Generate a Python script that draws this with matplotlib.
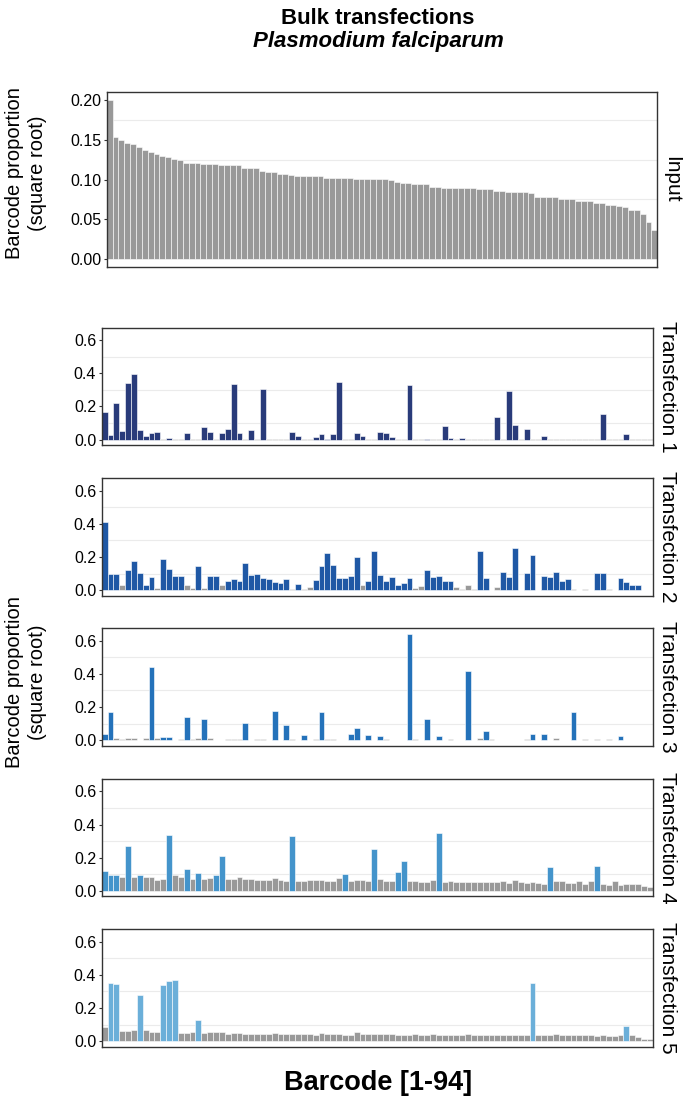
import matplotlib
matplotlib.use("Agg")
from matplotlib import pyplot as plt
import numpy as np

plt.rcParams['font.family'] = ['Liberation Sans', 'DejaVu Sans']

# barcode proportions (square root), barcodes ordered by input
input_vals = [0.200, 0.153, 0.150, 0.146, 0.145, 0.141, 0.137, 0.135, 0.132, 0.130,
              0.128, 0.126, 0.125, 0.121, 0.121, 0.121, 0.120, 0.119, 0.119, 0.118,
              0.118, 0.118, 0.118, 0.114, 0.114, 0.114, 0.111, 0.109, 0.109, 0.107,
              0.107, 0.106, 0.105, 0.105, 0.105, 0.105, 0.104, 0.102, 0.102, 0.102,
              0.102, 0.102, 0.101, 0.101, 0.101, 0.101, 0.101, 0.101, 0.099, 0.097,
              0.096, 0.096, 0.094, 0.094, 0.094, 0.091, 0.091, 0.089, 0.089, 0.089,
              0.089, 0.089, 0.089, 0.088, 0.088, 0.088, 0.086, 0.086, 0.084, 0.084,
              0.084, 0.084, 0.083, 0.078, 0.078, 0.078, 0.078, 0.076, 0.076, 0.076,
              0.073, 0.073, 0.073, 0.070, 0.070, 0.068, 0.068, 0.066, 0.065, 0.062,
              0.062, 0.057, 0.047, 0.036]

t1 = [.169, .030, .223, .050, .340, .396, .060, .024, .038, .048, .004, .010, .004, .004,
      .042, .004, .004, .078, .046, .004, .042, .064, .336, .040, .004, .060, .004, .308,
      .004, .004, .004, .004, .044, .024, .004, .004, .016, .036, .006, .036, .346, .004,
      .004, .040, .022, .004, .004, .046, .042, .018, .004, .004, .332, .004, .006, .006,
      .004, .004, .082, .010, .004, .010, .004, .004, .004, .004, .004, .139, .006, .292,
      .091, .004, .064, .004, .004, .024, .004, .004, .004, .004, .006, .006, .004, .004,
      .004, .155, .004, .004, .004, .032, .004, .004, .004, .004]
t1_hits = [1, 2, 3, 4, 5, 6, 7, 8, 9, 10, 12, 15, 18, 19, 21, 22, 23, 24, 26, 28, 33, 34,
           37, 38, 39, 40, 41, 44, 45, 48, 49, 50, 53, 56, 59, 60, 62, 68, 70, 71, 73, 76,
           86, 90]

t2 = [.408, .095, .095, .030, .125, .174, .101, .034, .079, .016, .186, .127, .083, .083,
      .030, .016, .147, .012, .087, .085, .030, .057, .067, .053, .162, .091, .097, .075,
      .067, .050, .042, .065, .010, .038, .008, .020, .063, .145, .222, .154, .075, .071,
      .083, .200, .032, .057, .236, .091, .057, .077, .032, .046, .071, .014, .026, .121,
      .081, .087, .057, .057, .020, .010, .030, .010, .236, .073, .003, .022, .111, .077,
      .257, .003, .101, .210, .003, .087, .077, .111, .057, .069, .008, .004, .008, .004,
      .103, .101, .008, .004, .073, .051, .032, .034, .004, .004]
t2_hits = [1, 2, 3, 5, 6, 7, 8, 9, 11, 12, 13, 14, 17, 19, 20, 22, 23, 24, 25, 26, 27, 28,
           29, 30, 31, 32, 34, 37, 38, 39, 40, 41, 42, 43, 44, 46, 47, 48, 49, 50, 51, 52,
           53, 56, 57, 58, 59, 60, 65, 66, 69, 70, 71, 73, 74, 76, 77, 78, 79, 80, 85, 86,
           89, 90, 91, 92]

t3 = [.038, .172, .014, .008, .014, .016, .004, .014, .442, .016, .020, .020, .004, .008,
      .141, .008, .014, .127, .016, .004, .004, .008, .008, .008, .101, .004, .008, .008,
      .004, .178, .004, .093, .008, .004, .032, .004, .008, .170, .008, .008, .004, .004,
      .036, .071, .004, .032, .004, .026, .008, .004, .004, .004, .642, .008, .004, .131,
      .004, .024, .004, .008, .004, .004, .418, .004, .014, .055, .006, .004, .004, .004,
      .004, .004, .006, .040, .004, .036, .004, .014, .004, .004, .170, .004, .006, .004,
      .006, .004, .006, .004, .024, .004, .004, .004, .004, .004]
t3_hits = [1, 2, 9, 11, 12, 15, 18, 25, 30, 32, 35, 38, 43, 44, 46, 48, 53, 56, 58, 63, 66,
           74, 76, 81, 89]

t4 = [.119, .097, .097, .085, .273, .083, .097, .087, .083, .065, .071, .337, .095, .083,
      .135, .075, .107, .073, .077, .095, .208, .071, .071, .083, .073, .071, .065, .069,
      .067, .077, .067, .063, .333, .059, .061, .065, .065, .065, .061, .063, .079, .101,
      .061, .065, .069, .057, .255, .071, .061, .057, .117, .178, .057, .057, .055, .055,
      .065, .350, .051, .057, .051, .051, .051, .051, .051, .053, .051, .051, .057, .050,
      .065, .053, .048, .053, .050, .044, .145, .057, .057, .046, .050, .059, .044, .059,
      .152, .042, .036, .057, .036, .042, .040, .040, .030, .022]
t4_hits = [1, 2, 3, 5, 7, 12, 15, 17, 20, 21, 33, 42, 47, 51, 52, 58, 77, 85]

t5 = [.083, .350, .342, .060, .062, .068, .276, .066, .056, .054, .336, .362, .370, .050,
      .052, .056, .127, .048, .056, .058, .054, .046, .050, .050, .046, .046, .046, .046,
      .046, .050, .046, .044, .042, .046, .046, .046, .040, .048, .046, .044, .042, .040,
      .040, .054, .044, .042, .042, .044, .044, .042, .038, .038, .040, .042, .038, .040,
      .044, .038, .038, .040, .038, .040, .042, .040, .038, .038, .040, .038, .036, .038,
      .038, .036, .036, .352, .036, .038, .038, .044, .038, .036, .038, .040, .036, .036,
      .034, .036, .034, .030, .036, .091, .036, .028, .016, .014]
t5_hits = [2, 3, 7, 11, 12, 13, 17, 74, 90]

labels = ['Transfection 1', 'Transfection 2', 'Transfection 3', 'Transfection 4', 'Transfection 5']
series = [t1, t2, t3, t4, t5]
hits = [t1_hits, t2_hits, t3_hits, t4_hits, t5_hits]
colors = ['#293b7a', '#1f58a5', '#2472ba', '#4494cb', '#6bafd9']
grey = '#999999'

W, H = 685, 1097
fig = plt.figure(figsize=(W / 100, H / 100), dpi=100)


def box(l, t, w, h):
    return [l / W, 1 - (t + h) / H, w / W, h / H]


def style(ax, yticks, grid, ylim):
    ax.set_xlim(0.5, 94.5)
    ax.set_ylim(*ylim)
    ax.set_xticks([])
    ax.set_yticks(yticks)
    for g in grid:
        ax.axhline(g, color='#ebebeb', lw=0.8, zorder=0)
    for s in ax.spines.values():
        s.set_color('#333333')
        s.set_linewidth(1.0)
    ax.tick_params(axis='y', length=2.5, width=0.8, color='#333333', labelsize=11.5, pad=1.5)


x = np.arange(1, 95)

ax0 = fig.add_axes(box(106.7, 92.3, 550.6, 174.4))
ax0.bar(x, input_vals, width=1, color=grey, edgecolor='white', linewidth=0.4, zorder=2)
style(ax0, [0, 0.05, 0.10, 0.15, 0.20], [0.025, 0.075, 0.125, 0.175], (-0.01, 0.21))
ax0.set_yticklabels(['0.00', '0.05', '0.10', '0.15', '0.20'])
ax0.text(1.008, 0.5, 'Input', transform=ax0.transAxes, rotation=-90,
         ha='left', va='center', fontsize=15)

tops = [327.7, 478.3, 628.3, 779, 929.3]
for top, vals, hit, col, lab in zip(tops, series, hits, colors, labels):
    ax = fig.add_axes(box(101.7, top, 551, 117.3))
    cols = [col if i in hit else grey for i in x]
    ax.bar(x, vals, width=1, color=cols, edgecolor='white', linewidth=0.4, zorder=2)
    style(ax, [0, 0.2, 0.4, 0.6], [0.1, 0.3, 0.5], (-0.0321, 0.674))
    ax.set_yticklabels(['0.0', '0.2', '0.4', '0.6'])
    ax.text(1.01, 0.5, lab, transform=ax.transAxes, rotation=-90,
            ha='left', va='center', fontsize=15)

fig.text(378 / W, 1 - 18 / H, 'Bulk transfections', ha='center', va='center',
         fontsize=16, fontweight='bold')
fig.text(378 / W, 1 - 42 / H, 'Plasmodium falciparum', ha='center', va='center',
         fontsize=16, fontweight='bold', style='italic')
fig.text(26 / W, 1 - 173 / H, 'Barcode proportion\n(square root)', rotation=90,
         ha='center', va='center', fontsize=14.5, linespacing=1.3, multialignment='center')
fig.text(26 / W, 1 - 682 / H, 'Barcode proportion\n(square root)', rotation=90,
         ha='center', va='center', fontsize=14.5, linespacing=1.3, multialignment='center')
fig.text(378 / W, 1 - 1083 / H, 'Barcode [1-94]', ha='center', va='center',
         fontsize=19.5, fontweight='bold')

fig.savefig('out.png', dpi=100)
